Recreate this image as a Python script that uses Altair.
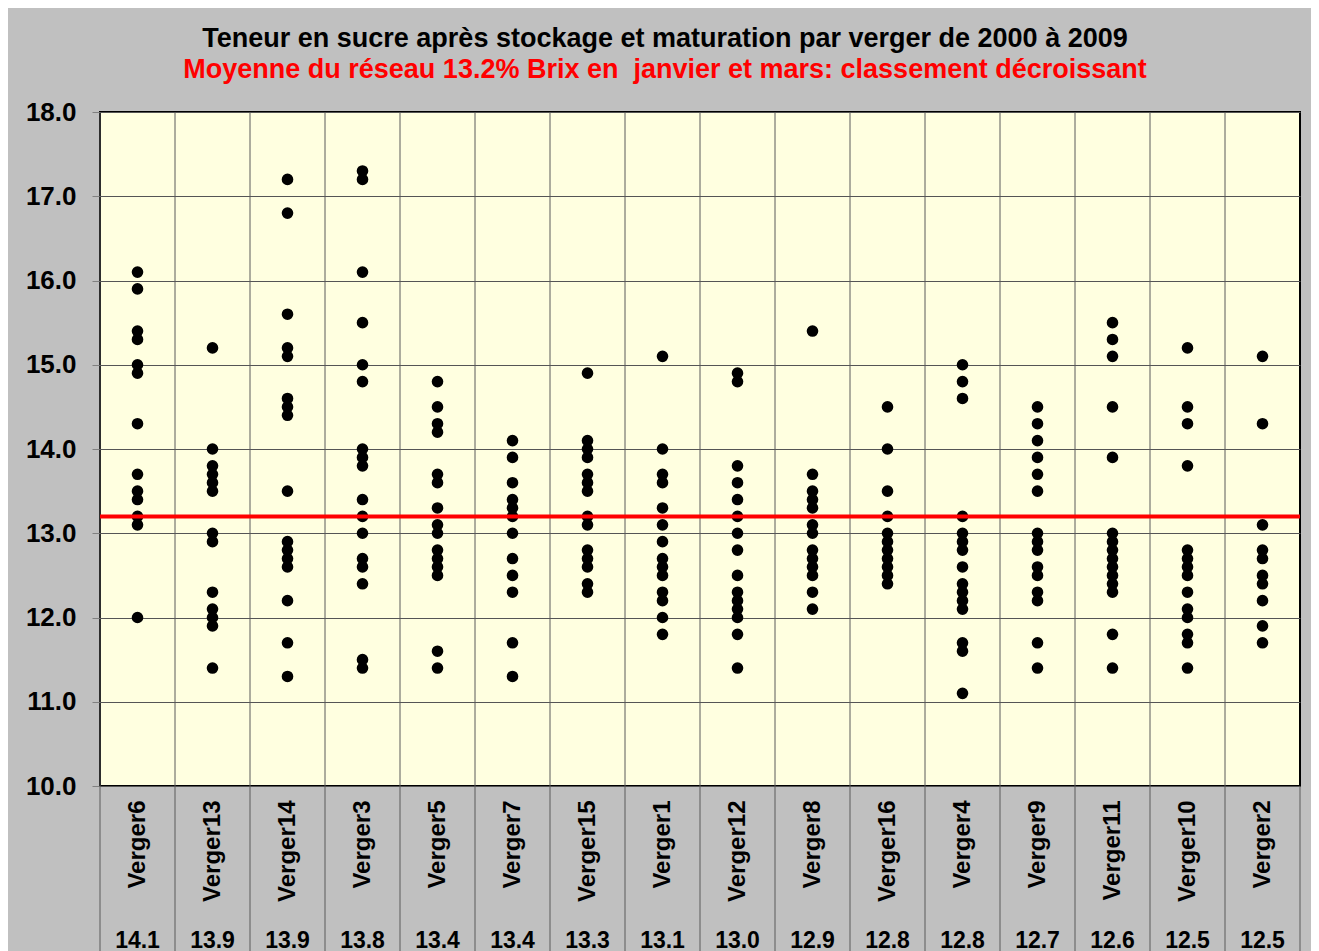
import altair as alt
import pandas as pd

vergers = ["Verger6", "Verger13", "Verger14", "Verger3", "Verger5", "Verger7", "Verger15", "Verger1",
           "Verger12", "Verger8", "Verger16", "Verger4", "Verger9", "Verger11", "Verger10", "Verger2"]
moyennes = [14.1, 13.9, 13.9, 13.8, 13.4, 13.4, 13.3, 13.1, 13.0, 12.9, 12.8, 12.8, 12.7, 12.6, 12.5, 12.5]
moyenne_reseau = 13.2

v6 = [16.1, 15.9, 15.4, 15.3, 15.0, 14.9, 14.3, 13.7, 13.5, 13.4, 13.2, 13.1, 12.0]
v13 = [15.2, 14.0, 13.8, 13.7, 13.6, 13.5, 13.0, 12.9, 12.3, 12.1, 12.0, 11.9, 11.4]
v14 = [17.2, 16.8, 15.6, 15.2, 15.1, 14.6, 14.5, 14.4, 13.5, 12.9, 12.8, 12.7, 12.6, 12.2, 11.7, 11.3]
v3 = [17.3, 17.2, 16.1, 15.5, 15.0, 14.8, 14.0, 13.9, 13.8, 13.4, 13.2, 13.0, 12.7, 12.6, 12.4, 11.5, 11.4]
v5 = [14.8, 14.5, 14.3, 14.2, 13.7, 13.6, 13.3, 13.1, 13.0, 12.8, 12.7, 12.6, 12.5, 11.6, 11.4]
v7 = [14.1, 13.9, 13.6, 13.4, 13.3, 13.2, 13.0, 12.7, 12.5, 12.3, 11.7, 11.3]
v15 = [14.9, 14.1, 14.0, 13.9, 13.7, 13.6, 13.5, 13.2, 13.1, 12.8, 12.7, 12.6, 12.4, 12.3]
v1 = [15.1, 14.0, 13.7, 13.6, 13.3, 13.1, 12.9, 12.7, 12.6, 12.5, 12.3, 12.2, 12.0, 11.8]
v12 = [14.9, 14.8, 13.8, 13.6, 13.4, 13.2, 13.0, 12.8, 12.5, 12.3, 12.2, 12.1, 12.0, 11.8, 11.4]
v8 = [15.4, 13.7, 13.5, 13.4, 13.3, 13.1, 13.0, 12.8, 12.7, 12.6, 12.5, 12.3, 12.1]
v16 = [14.5, 14.0, 13.5, 13.2, 13.0, 12.9, 12.8, 12.7, 12.6, 12.5, 12.4]
v4 = [15.0, 14.8, 14.6, 13.2, 13.0, 12.9, 12.8, 12.6, 12.4, 12.3, 12.2, 12.1, 11.7, 11.6, 11.1]
v9 = [14.5, 14.3, 14.1, 13.9, 13.7, 13.5, 13.0, 12.9, 12.8, 12.6, 12.5, 12.3, 12.2, 11.7, 11.4]
v11 = [15.5, 15.3, 15.1, 14.5, 13.9, 13.0, 12.9, 12.8, 12.7, 12.6, 12.5, 12.4, 12.3, 11.8, 11.4]
v10 = [15.2, 14.5, 14.3, 13.8, 12.8, 12.7, 12.6, 12.5, 12.3, 12.1, 12.0, 11.8, 11.7, 11.4]
v2 = [15.1, 14.3, 13.1, 12.8, 12.7, 12.5, 12.4, 12.2, 11.9, 11.7]

valeurs = [v6, v13, v14, v3, v5, v7, v15, v1, v12, v8, v16, v4, v9, v11, v10, v2]
y_ticks = [10, 11, 12, 13, 14, 15, 16, 17, 18]

titre = "Teneur en sucre après stockage et maturation par verger de 2000 à 2009"
sous_titre = "Moyenne du réseau 13.2% Brix en \u00a0janvier et mars: classement décroissant"

df = pd.DataFrame([{"verger": v, "brix": b} for v, vals in zip(vergers, valeurs) for b in vals])
cats = pd.DataFrame({"verger": vergers, "moyenne": [f"{m:.1f}" for m in moyennes]})
ref = pd.DataFrame({"m": [moyenne_reseau]})

FONT = "Arial, Liberation Sans, sans-serif"
xscale = alt.Scale(type="band", domain=vergers, paddingInner=0, paddingOuter=0)
yscale = alt.Scale(domain=[10, 18], nice=False, zero=False)

xaxis = alt.Axis(title=None, labelAngle=270, labelFontSize=24, labelFontWeight="bold", labelFont=FONT,
                 labelColor="black", ticks=False, domain=False, grid=False, labelPadding=14)
yaxis = alt.Axis(title=None, values=y_ticks, format=".1f", labelFontSize=26, labelFontWeight="bold",
                 labelFont=FONT, labelColor="black", tickSize=8, tickColor="#808080", labelPadding=16,
                 grid=True, gridColor="#555555", gridWidth=1, domain=False)

sep = alt.Chart(cats).mark_rule(color="#5a5a5a", strokeWidth=1).encode(
    x=alt.X("verger:N", scale=xscale, axis=xaxis, bandPosition=0),
    y=alt.value(0), y2=alt.value(840)
)
sep_end = alt.Chart(cats).transform_filter(alt.datum.verger == vergers[-1]).mark_rule(
    color="#5a5a5a", strokeWidth=1).encode(
    x=alt.X("verger:N", scale=xscale, axis=xaxis, bandPosition=1),
    y=alt.value(674), y2=alt.value(840)
)

pts = alt.Chart(df).mark_circle(size=135, color="black", opacity=1).encode(
    x=alt.X("verger:N", scale=xscale, axis=xaxis),
    y=alt.Y("brix:Q", scale=yscale, axis=yaxis)
)

red = alt.Chart(ref).mark_rule(color="#FF0000", strokeWidth=4).encode(
    y=alt.Y("m:Q", scale=yscale, axis=yaxis)
)

means = alt.Chart(cats).mark_text(fontSize=23, fontWeight="bold", font=FONT, color="black",
                                  baseline="middle").encode(
    x=alt.X("verger:N", scale=xscale, axis=xaxis),
    y=alt.value(829),
    text="moyenne:N"
)

chart = alt.layer(sep, sep_end, pts, red, means).properties(
    width=1200, height=674,
    title=alt.TitleParams(text=titre, subtitle=sous_titre, fontSize=27, subtitleFontSize=27,
                          font=FONT, subtitleFont=FONT, fontWeight="bold", subtitleFontWeight="bold",
                          color="black", subtitleColor="#FF0000", anchor="middle", dx=-35,
                          offset=15, subtitlePadding=4),
    autosize=alt.AutoSizeParams(type="none"),
    padding={"left": 92, "top": 104, "right": 11, "bottom": 170},
    background="#C0C0C0",
).configure_view(fill="#FFFFE0", stroke="black", strokeWidth=2)

chart.save("out.html", embed_options={"renderer": "svg", "actions": False})
